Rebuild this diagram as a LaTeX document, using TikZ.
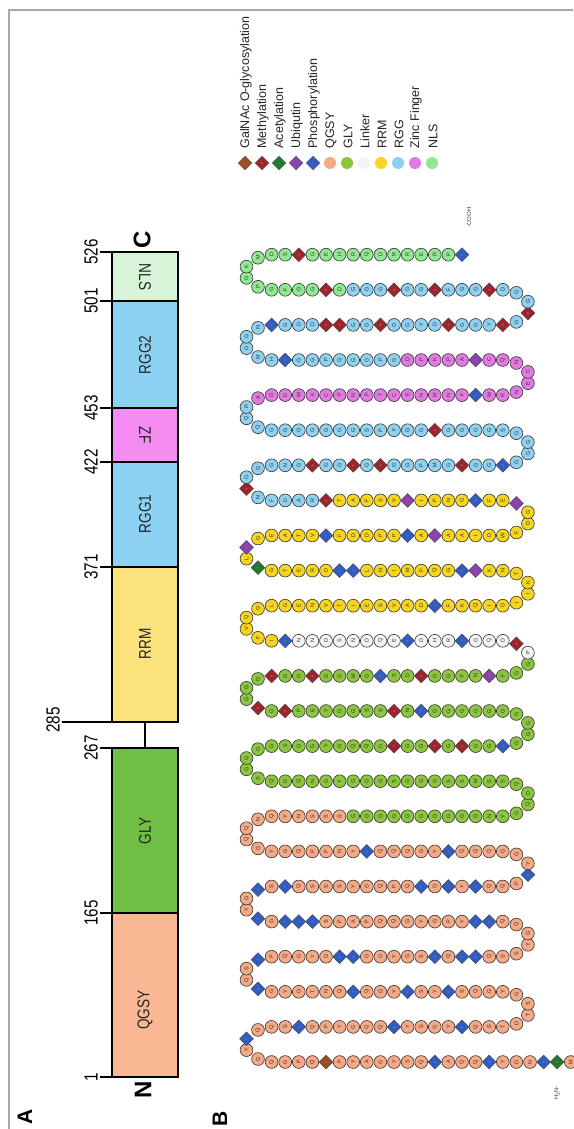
\documentclass[tikz,border=0pt]{standalone}
\usepackage{fontspec}
\setmainfont{Liberation Sans}
\usetikzlibrary{shapes.geometric}

% domain colours (chain circles and bar)
\definecolor{qgsy}{HTML}{F5A985}
\definecolor{qgsybox}{HTML}{F9B893}
\definecolor{gly}{HTML}{8CC63F}
\definecolor{glybox}{HTML}{70BE44}
\definecolor{lnk}{HTML}{F4F4F4}
\definecolor{rrm}{HTML}{F7D51E}
\definecolor{rrmbox}{HTML}{FCE27C}
\definecolor{rgg}{HTML}{8FD1F0}
\definecolor{rggbox}{HTML}{8DD2F2}
\definecolor{zf}{HTML}{E27AE2}
\definecolor{zfbox}{HTML}{F48CF2}
\definecolor{nls}{HTML}{90E890}
\definecolor{nlsbox}{HTML}{D8F4D8}
% modification colours
\definecolor{mglyc}{HTML}{A14B1E}
\definecolor{mmeth}{HTML}{A3222A}
\definecolor{macet}{HTML}{1F7A2E}
\definecolor{mubiq}{HTML}{8E3FB0}
\definecolor{mphos}{HTML}{2F5CC6}
\definecolor{framec}{HTML}{A8A8A8}

% FUS sequence, stored one residue per macro \csname aa-<n>\endcsname
\newcount\aacnt
\def\storeseq#1{\global\aacnt=0 \storeseqi#1\relax}
\def\storeseqi#1{\ifx#1\relax\else\global\advance\aacnt by 1
  \expandafter\xdef\csname aa-\the\aacnt\endcsname{#1}\expandafter\storeseqi\fi}
\storeseq{MASNDYTQQATQSYGAYPTQPGQGYSQQSSQPYGQQSYSGYSQSTDTSGY
GQSSYSSYGQSQNTGYGTQSTPQGYGSTGGYGSSQSSQSSYGQQSSYPGY
GQQPAPSSTSGSYGSSSQSSSYGQPQSGSYSQQPSYGGQQQSYGQQQSYN
PPQGYGQQNQYNSSSGGGGGGGGGGNYGQDQSSMSSGGGSGGGYGNQDQS
GGGGSGGYGQQDRGGRGRGGSGGGGGGGGGGYNRSSGGYEPRGRGGGRGG
RGGMGGSDRGGFNKFGGPRDQGSRHDSEQDNSDNNTIFVQGLGENVTIES
VADYFKQIGIIKTNKKTGQPMINLYTDRETGKLKGEATVSFDDPPSAKAA
IDWFDGKEFSGNPIKVSFATRRADFNRGGGNGRGGRGRGGPMGRGGYGGG
GSGGGGRGGFPSGGGGGGGQQRAGDWKCPNPTCENMNFSWRNECNQCKAP
KPDGPGGGPGGSHMGGNYGDDRRGGRGGYDRGGYRGRGGDRGGFRGGRGG
GDRGGFGPGKMDSRGEHRQDRRERPY}

% modified residues
\newcommand\setmods[2]{\foreach \n in {#2}{\expandafter\xdef\csname mod-\n\endcsname{#1}}}
\setmods{macet}{2,332}
\setmods{mglyc}{19}
\setmods{mphos}{3,7,11,26,30,37,42,54,57,61,68,71,77,78,84,86,87,95,96,108,109,110,112,115,117,127,129,131,135,142,148,221,232,256,273,277,286,304,317,325,326,340,346,360,397,439,462,468,526}
\setmods{mmeth}{213,216,218,234,242,244,248,251,259,269,371,377,383,386,388,394,407,472,473,476,481,485,487,491,495,498,503,514}
\setmods{mubiq}{264,316,334,348,357,365,448}

% domain colour of residue #1 -> \dc
\newcommand\domcol[1]{%
  \ifnum#1<166 \def\dc{qgsy}\else
  \ifnum#1<268 \def\dc{gly}\else
  \ifnum#1<286 \def\dc{lnk}\else
  \ifnum#1<372 \def\dc{rrm}\else
  \ifnum#1<423 \def\dc{rgg}\else
  \ifnum#1<454 \def\dc{zf}\else
  \ifnum#1<502 \def\dc{rgg}\else \def\dc{nls}\fi\fi\fi\fi\fi\fi\fi}

% one residue: number, x, y
\newcommand\resid[3]{%
  \domcol{#1}%
  \ifcsname mod-#1\endcsname
    \edef\mc{\csname mod-#1\endcsname}%
    \node[moddia, fill=\mc] (r#1) at (#2,#3) {};
    \fill[black!55] (r#1.center) circle (1.1);
  \else
    \node[rescirc, fill=\dc] (r#1) at (#2,#3) {\csname aa-#1\endcsname};
  \fi}

\newcommand\sq[1]{\scalebox{0.8}[1]{#1}}

\tikzset{
  rescirc/.style={circle, draw=black!80, line width=0.6pt, minimum size=12.8pt,
    inner sep=0pt, rotate=90, font=\fontsize{5.5}{5.5}\selectfont, text=black!80},
  moddia/.style={diamond, aspect=1, draw=black!70, line width=0.5pt,
    minimum size=14pt, inner sep=0pt},
  legdia/.style={diamond, aspect=1, draw=black!60, line width=0.5pt,
    minimum size=14pt, inner sep=0pt},
  legdot/.style={circle, minimum size=12pt, inner sep=0pt},
  legtxt/.style={rotate=90, anchor=west, font=\fontsize{12.5}{12.5}\selectfont, text=black!85},
  dombox/.style={draw=black, line width=1.3pt},
  domlab/.style={rotate=90, font=\fontsize{17}{17}\selectfont, text=black!85},
  domlabr/.style={rotate=-90, font=\fontsize{17}{17}\selectfont, text=black!85},
  ticklab/.style={rotate=90, font=\fontsize{19}{19}\selectfont},
  tickline/.style={draw=black, line width=1.3pt},
  endlab/.style={rotate=90, font=\bfseries\fontsize{24}{24}\selectfont},
  panlab/.style={rotate=90, font=\bfseries\fontsize{21}{21}\selectfont},
  termlab/.style={rotate=90, font=\fontsize{6}{6}\selectfont, text=black!75},
}

\begin{document}
\begin{tikzpicture}[x=1pt, y=-1pt]
\useasboundingbox (0,0) rectangle (573,1129);
\fill[white] (0,0) rectangle (573,1129);
\draw[framec, line width=1.2pt] (9,1129) -- (9,10) -- (573,10);

% ---------- panel A: domain bar ----------
\path[dombox, fill=qgsybox] (112,913) rectangle (178,1077);
\path[dombox, fill=glybox]  (112,748) rectangle (178,913);
\path[dombox, fill=rrmbox]  (112,567) rectangle (178,722);
\path[dombox, fill=rggbox]  (112,462) rectangle (178,567);
\path[dombox, fill=zfbox]   (112,408) rectangle (178,462);
\path[dombox, fill=rggbox]  (112,301) rectangle (178,408);
\path[dombox, fill=nlsbox]  (112,252) rectangle (178,301);
\draw[tickline] (145,748) -- (145,722);

\node[domlab]  (lqgsy) at (145,1010) {\sq{QGSY}};
\node[domlab]  (lgly)  at (145,831)  {\sq{GLY}};
\node[domlab]  (lrrm)  at (145,644)  {\sq{RRM}};
\node[domlab]  (lrgg1) at (145,514)  {\sq{RGG1}};
\node[domlabr] (lzf)   at (145,435)  {\sq{ZF}};
\node[domlab]  (lrgg2) at (145,355)  {\sq{RGG2}};
\node[domlabr] (lnls)  at (145,277)  {\sq{NLS}};

\foreach \v/\yy in {1/1077,165/913,267/748,371/567,422/462,453/408,501/301,526/252}{
  \draw[tickline] (100,\yy) -- (112,\yy);
  \node[ticklab] (tk\v) at (91,\yy) {\sq{\v}};
}
\draw[tickline] (62,722) -- (112,722);
\node[ticklab] (tk285) at (53,720) {\sq{285}};

\node[endlab] (nterm) at (143,1090) {N};
\node[endlab] (cterm) at (142,240) {C};
\node[panlab] (pa) at (25,1117) {A};
\node[panlab] (pb) at (220,1119) {B};

% ---------- panel B: legend ----------
\foreach \i/\c/\t/\s in {0/mglyc/GalNAc O-glycosylation/legdia, 1/mmeth/Methylation/legdia,
  2/macet/Acetylation/legdia, 3/mubiq/Ubiqutin/legdia, 4/mphos/Phosphorylation/legdia,
  5/qgsy/QGSY/legdot, 6/gly/GLY/legdot, 7/lnk/Linker/legdot, 8/rrm/RRM/legdot,
  9/rgg/RGG/legdot, 10/zf/Zinc Finger/legdot, 11/nls/NLS/legdot}{
  \pgfmathsetmacro\lx{245+\i*17}
  \node[\s, fill=\c] (lg\i) at (\lx,163) {};
  \node[legtxt] (lt\i) at (\lx+1,152) {\t};
}
\foreach \i in {0,...,4}{\fill[black!60] (lg\i.center) circle (1.3);}

% ---------- panel B: residue chain ----------
% 24 rows, 2 residues in each turn; row ends bend towards the turns
\foreach \k in {1,...,24}{
  \pgfmathsetmacro\yk{1062-(\k-1)*35.1}
  \ifnum\k=1 \def\len{24}\def\st{1}\else
    \pgfmathtruncatemacro\st{27+(\k-2)*22}%
    \ifnum\k=24 \def\len{16}\else\def\len{20}\fi
  \fi
  \pgfmathtruncatemacro\lenm{\len-1}
  \foreach \p in {0,...,\lenm}{
    \ifodd\k \pgfmathtruncatemacro\n{\st+\lenm-\p}\else\pgfmathtruncatemacro\n{\st+\p}\fi
    \def\dy{0}%
    \ifnum\p=0 \ifodd\k \def\dy{-3}\else\def\dy{3}\fi\fi
    \ifnum\p=19 \ifnum\k>1 \ifodd\k \def\dy{3}\else\def\dy{-3}\fi\fi\fi
    \pgfmathsetmacro\xp{258+\p*13.6}
    \pgfmathsetmacro\yp{\yk+\dy}
    \resid{\n}{\xp}{\yp}
  }
  \ifnum\k<24
    \pgfmathtruncatemacro\ta{\st+\len}
    \pgfmathtruncatemacro\tb{\st+\len+1}
    \ifodd\k \def\xt{246.5}\else\def\xt{527.9}\fi
    \pgfmathsetmacro\ya{\yk-11.9}
    \pgfmathsetmacro\yb{\yk-23.2}
    \resid{\ta}{\xt}{\ya}
    \resid{\tb}{\xt}{\yb}
  \fi
}
\node[termlab, anchor=west] (cooh) at (469,231) {-COOH};
\node[termlab] (h2n) at (557,1093) {H\textsubscript{2}N-};
\end{tikzpicture}
\end{document}
